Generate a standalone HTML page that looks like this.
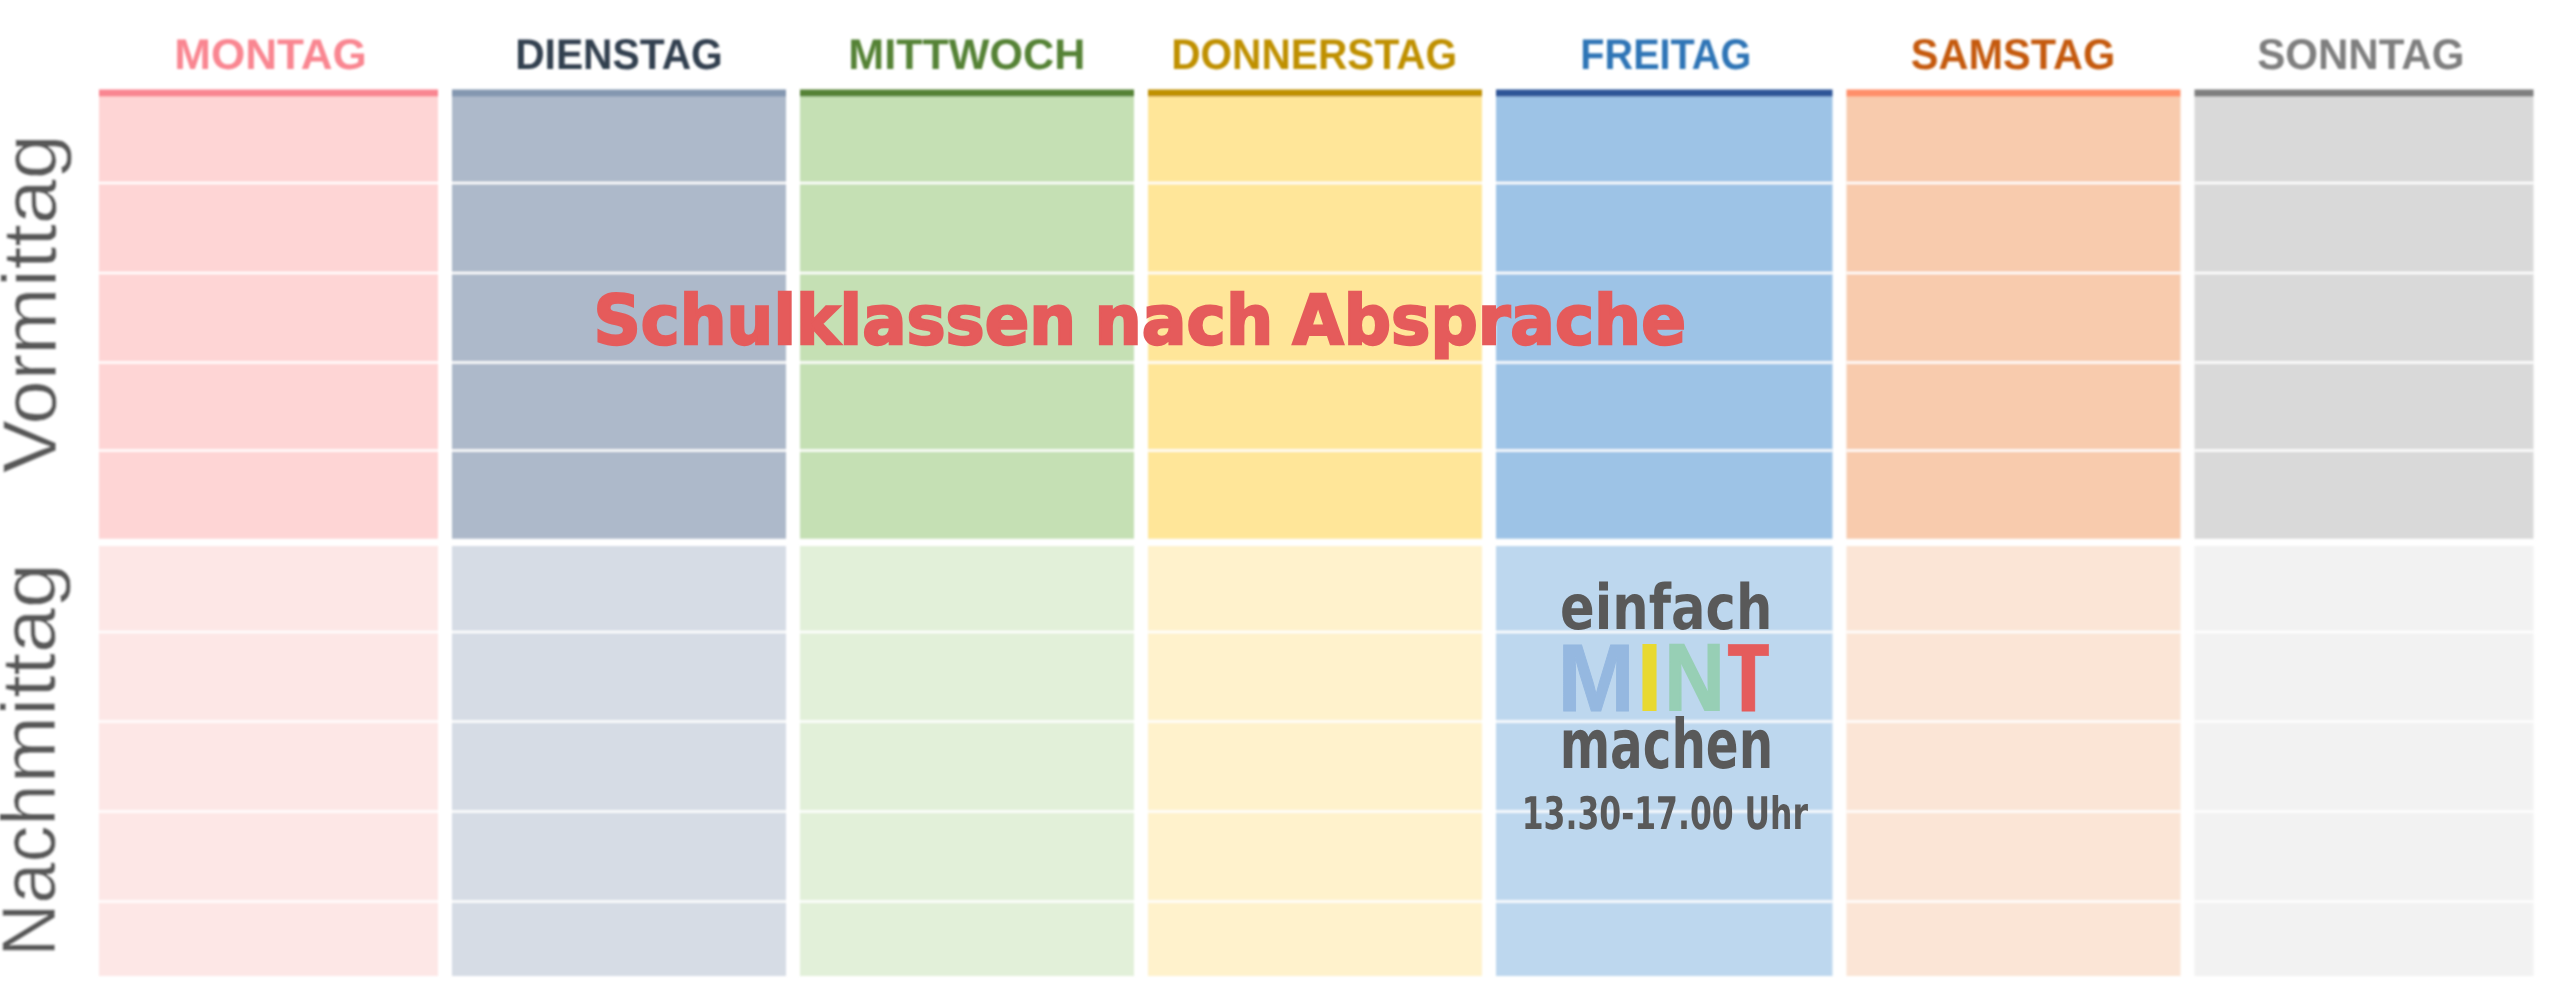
<!DOCTYPE html>
<html lang="de">
<head>
<meta charset="utf-8">
<title>Wochenplan</title>
<style>
html,body{margin:0;padding:0;background:#fff;}
body{width:2560px;height:999px;overflow:hidden;}
svg{display:block;}
text{font-family:"Liberation Sans",sans-serif;text-rendering:geometricPrecision;}
.day{font-weight:bold;font-size:43px;}
.side{font-size:76.5px;fill:#595959;stroke:#fff;stroke-width:0.5;}
.big{font-family:"DejaVu Sans","Liberation Sans",sans-serif;font-weight:bold;font-size:68.5px;fill:#E55B5B;stroke:#E55B5B;stroke-width:2.4;stroke-linejoin:miter;stroke-miterlimit:3;}
.mint{font-family:"DejaVu Sans","Liberation Sans",sans-serif;font-weight:bold;fill:#595959;}
.ltr{font-weight:bold;stroke-linejoin:miter;}
</style>
</head>
<body>
<svg width="2560" height="999" viewBox="0 0 2560 999">
<defs><filter id="soft" x="-2%" y="-2%" width="104%" height="104%"><feGaussianBlur stdDeviation="0.8"/></filter><filter id="wide" x="-20%" y="-5%" width="140%" height="110%"><feMorphology operator="dilate" radius="2 0"/></filter></defs>
<g filter="url(#soft)">

<rect x="99.0" y="95.5" width="339.0" height="443.25" fill="#FED5D5"/>
<rect x="99.0" y="89.5" width="339.0" height="7.0" fill="#F98691"/>
<rect x="99.0" y="546.0" width="339.0" height="430.0" fill="#FDE7E6"/>
<rect x="99.0" y="181.8" width="339.0" height="2.4" fill="#fff"/>
<rect x="99.0" y="271.8" width="339.0" height="2.4" fill="#fff"/>
<rect x="99.0" y="361.3" width="339.0" height="2.4" fill="#fff"/>
<rect x="99.0" y="449.3" width="339.0" height="2.4" fill="#fff"/>
<rect x="99.0" y="630.8" width="339.0" height="2.4" fill="#fff"/>
<rect x="99.0" y="720.3" width="339.0" height="2.4" fill="#fff"/>
<rect x="99.0" y="810.3" width="339.0" height="2.4" fill="#fff"/>
<rect x="99.0" y="900.3" width="339.0" height="2.4" fill="#fff"/>
<text class="day" x="174.16" y="68.9" textLength="192.67" lengthAdjust="spacingAndGlyphs" fill="#F98691">MONTAG</text>
<rect x="452.0" y="95.5" width="334.0" height="443.25" fill="#ADB9CA"/>
<rect x="452.0" y="89.5" width="334.0" height="7.0" fill="#8497B0"/>
<rect x="452.0" y="546.0" width="334.0" height="430.0" fill="#D6DCE5"/>
<rect x="452.0" y="181.8" width="334.0" height="2.4" fill="#fff"/>
<rect x="452.0" y="271.8" width="334.0" height="2.4" fill="#fff"/>
<rect x="452.0" y="361.3" width="334.0" height="2.4" fill="#fff"/>
<rect x="452.0" y="449.3" width="334.0" height="2.4" fill="#fff"/>
<rect x="452.0" y="630.8" width="334.0" height="2.4" fill="#fff"/>
<rect x="452.0" y="720.3" width="334.0" height="2.4" fill="#fff"/>
<rect x="452.0" y="810.3" width="334.0" height="2.4" fill="#fff"/>
<rect x="452.0" y="900.3" width="334.0" height="2.4" fill="#fff"/>
<text class="day" x="515.15" y="68.9" textLength="207.69" lengthAdjust="spacingAndGlyphs" fill="#333F50">DIENSTAG</text>
<rect x="800.0" y="95.5" width="334.0" height="443.25" fill="#C5E0B4"/>
<rect x="800.0" y="89.5" width="334.0" height="7.0" fill="#548235"/>
<rect x="800.0" y="546.0" width="334.0" height="430.0" fill="#E2F0D9"/>
<rect x="800.0" y="181.8" width="334.0" height="2.4" fill="#fff"/>
<rect x="800.0" y="271.8" width="334.0" height="2.4" fill="#fff"/>
<rect x="800.0" y="361.3" width="334.0" height="2.4" fill="#fff"/>
<rect x="800.0" y="449.3" width="334.0" height="2.4" fill="#fff"/>
<rect x="800.0" y="630.8" width="334.0" height="2.4" fill="#fff"/>
<rect x="800.0" y="720.3" width="334.0" height="2.4" fill="#fff"/>
<rect x="800.0" y="810.3" width="334.0" height="2.4" fill="#fff"/>
<rect x="800.0" y="900.3" width="334.0" height="2.4" fill="#fff"/>
<text class="day" x="848.33" y="68.9" textLength="236.92" lengthAdjust="spacingAndGlyphs" fill="#548235">MITTWOCH</text>
<rect x="1148.0" y="95.5" width="334.0" height="443.25" fill="#FFE699"/>
<rect x="1148.0" y="89.5" width="334.0" height="7.0" fill="#BF9000"/>
<rect x="1148.0" y="546.0" width="334.0" height="430.0" fill="#FFF2CC"/>
<rect x="1148.0" y="181.8" width="334.0" height="2.4" fill="#fff"/>
<rect x="1148.0" y="271.8" width="334.0" height="2.4" fill="#fff"/>
<rect x="1148.0" y="361.3" width="334.0" height="2.4" fill="#fff"/>
<rect x="1148.0" y="449.3" width="334.0" height="2.4" fill="#fff"/>
<rect x="1148.0" y="630.8" width="334.0" height="2.4" fill="#fff"/>
<rect x="1148.0" y="720.3" width="334.0" height="2.4" fill="#fff"/>
<rect x="1148.0" y="810.3" width="334.0" height="2.4" fill="#fff"/>
<rect x="1148.0" y="900.3" width="334.0" height="2.4" fill="#fff"/>
<text class="day" x="1171.15" y="68.9" textLength="286.10" lengthAdjust="spacingAndGlyphs" fill="#BF9000">DONNERSTAG</text>
<rect x="1496.0" y="95.5" width="336.5" height="443.25" fill="#9DC3E6"/>
<rect x="1496.0" y="89.5" width="336.5" height="7.0" fill="#2F5597"/>
<rect x="1496.0" y="546.0" width="336.5" height="430.0" fill="#BDD7EE"/>
<rect x="1496.0" y="181.8" width="336.5" height="2.4" fill="#fff"/>
<rect x="1496.0" y="271.8" width="336.5" height="2.4" fill="#fff"/>
<rect x="1496.0" y="361.3" width="336.5" height="2.4" fill="#fff"/>
<rect x="1496.0" y="449.3" width="336.5" height="2.4" fill="#fff"/>
<rect x="1496.0" y="630.8" width="336.5" height="2.4" fill="#fff"/>
<rect x="1496.0" y="720.3" width="336.5" height="2.4" fill="#fff"/>
<rect x="1496.0" y="810.3" width="336.5" height="2.4" fill="#fff"/>
<rect x="1496.0" y="900.3" width="336.5" height="2.4" fill="#fff"/>
<text class="day" x="1580.34" y="68.9" textLength="170.92" lengthAdjust="spacingAndGlyphs" fill="#2E75B6">FREITAG</text>
<rect x="1846.5" y="95.5" width="334.0" height="443.25" fill="#F8CBAD"/>
<rect x="1846.5" y="89.5" width="334.0" height="7.0" fill="#FF8F6B"/>
<rect x="1846.5" y="546.0" width="334.0" height="430.0" fill="#FBE5D6"/>
<rect x="1846.5" y="181.8" width="334.0" height="2.4" fill="#fff"/>
<rect x="1846.5" y="271.8" width="334.0" height="2.4" fill="#fff"/>
<rect x="1846.5" y="361.3" width="334.0" height="2.4" fill="#fff"/>
<rect x="1846.5" y="449.3" width="334.0" height="2.4" fill="#fff"/>
<rect x="1846.5" y="630.8" width="334.0" height="2.4" fill="#fff"/>
<rect x="1846.5" y="720.3" width="334.0" height="2.4" fill="#fff"/>
<rect x="1846.5" y="810.3" width="334.0" height="2.4" fill="#fff"/>
<rect x="1846.5" y="900.3" width="334.0" height="2.4" fill="#fff"/>
<text class="day" x="1910.77" y="68.9" textLength="204.45" lengthAdjust="spacingAndGlyphs" fill="#C55A11">SAMSTAG</text>
<rect x="2194.5" y="95.5" width="339.0" height="443.25" fill="#D9D9D9"/>
<rect x="2194.5" y="89.5" width="339.0" height="7.0" fill="#7F7F7F"/>
<rect x="2194.5" y="546.0" width="339.0" height="430.0" fill="#F2F2F2"/>
<rect x="2194.5" y="181.8" width="339.0" height="2.4" fill="#fff"/>
<rect x="2194.5" y="271.8" width="339.0" height="2.4" fill="#fff"/>
<rect x="2194.5" y="361.3" width="339.0" height="2.4" fill="#fff"/>
<rect x="2194.5" y="449.3" width="339.0" height="2.4" fill="#fff"/>
<rect x="2194.5" y="630.8" width="339.0" height="2.4" fill="#fff"/>
<rect x="2194.5" y="720.3" width="339.0" height="2.4" fill="#fff"/>
<rect x="2194.5" y="810.3" width="339.0" height="2.4" fill="#fff"/>
<rect x="2194.5" y="900.3" width="339.0" height="2.4" fill="#fff"/>
<text class="day" x="2257.15" y="68.9" textLength="207.31" lengthAdjust="spacingAndGlyphs" fill="#7F7F7F">SONNTAG</text>
<text class="side" transform="translate(56.4 999) rotate(-90)"><tspan x="526.09" textLength="119.04" lengthAdjust="spacingAndGlyphs">Vor</tspan><tspan x="644.20" textLength="220.53" lengthAdjust="spacingAndGlyphs">mittag</tspan></text>
<text class="side" transform="translate(55.2 999) rotate(-90)"><tspan x="42.15" textLength="172.48" lengthAdjust="spacingAndGlyphs">Nach</tspan><tspan x="215.85" textLength="220.10" lengthAdjust="spacingAndGlyphs">mittag</tspan></text>
</g>
<g>
<text class="big" y="343.8"><tspan x="593.52" textLength="482.57" lengthAdjust="spacingAndGlyphs">Schulklassen</tspan> <tspan x="1094.59" textLength="178.61" lengthAdjust="spacingAndGlyphs">nach</tspan> <tspan x="1292.59" textLength="393.42" lengthAdjust="spacingAndGlyphs">Absprache</tspan></text>
<text class="mint" x="1560.11" y="629.3" font-size="62.5" textLength="212.22" lengthAdjust="spacingAndGlyphs">einfach</text>
<g class="mintword"><text class="ltr" font-size="96.08" transform="translate(1557.59 710.50) scale(0.9637 1)" fill="#95B8E0" stroke="#95B8E0" stroke-width="1.0">M</text><text class="ltr" font-size="97.53" transform="translate(1635.90 711.00) scale(0.9969 1)" fill="#E8D930">I</text><text class="ltr" font-size="94.91" transform="translate(1664.62 710.10) scale(0.8767 1)" fill="#97CFB5" stroke="#97CFB5" stroke-width="1.8">N</text><g filter="url(#wide)"><text class="ltr" font-size="96.37" transform="translate(1729.56 710.60) scale(0.6429 1)" fill="#E55B5B" stroke="#E55B5B" stroke-width="0.8">T</text></g></g>
<text class="mint" x="1559.64" y="767.9" font-size="68.4" textLength="213.52" lengthAdjust="spacingAndGlyphs">machen</text>
<text class="mint" x="1521.74" y="828.8" font-size="44.8" textLength="286.26" lengthAdjust="spacingAndGlyphs">13.30-17.00 Uhr</text>
</g>
</svg>
</body>
</html>
